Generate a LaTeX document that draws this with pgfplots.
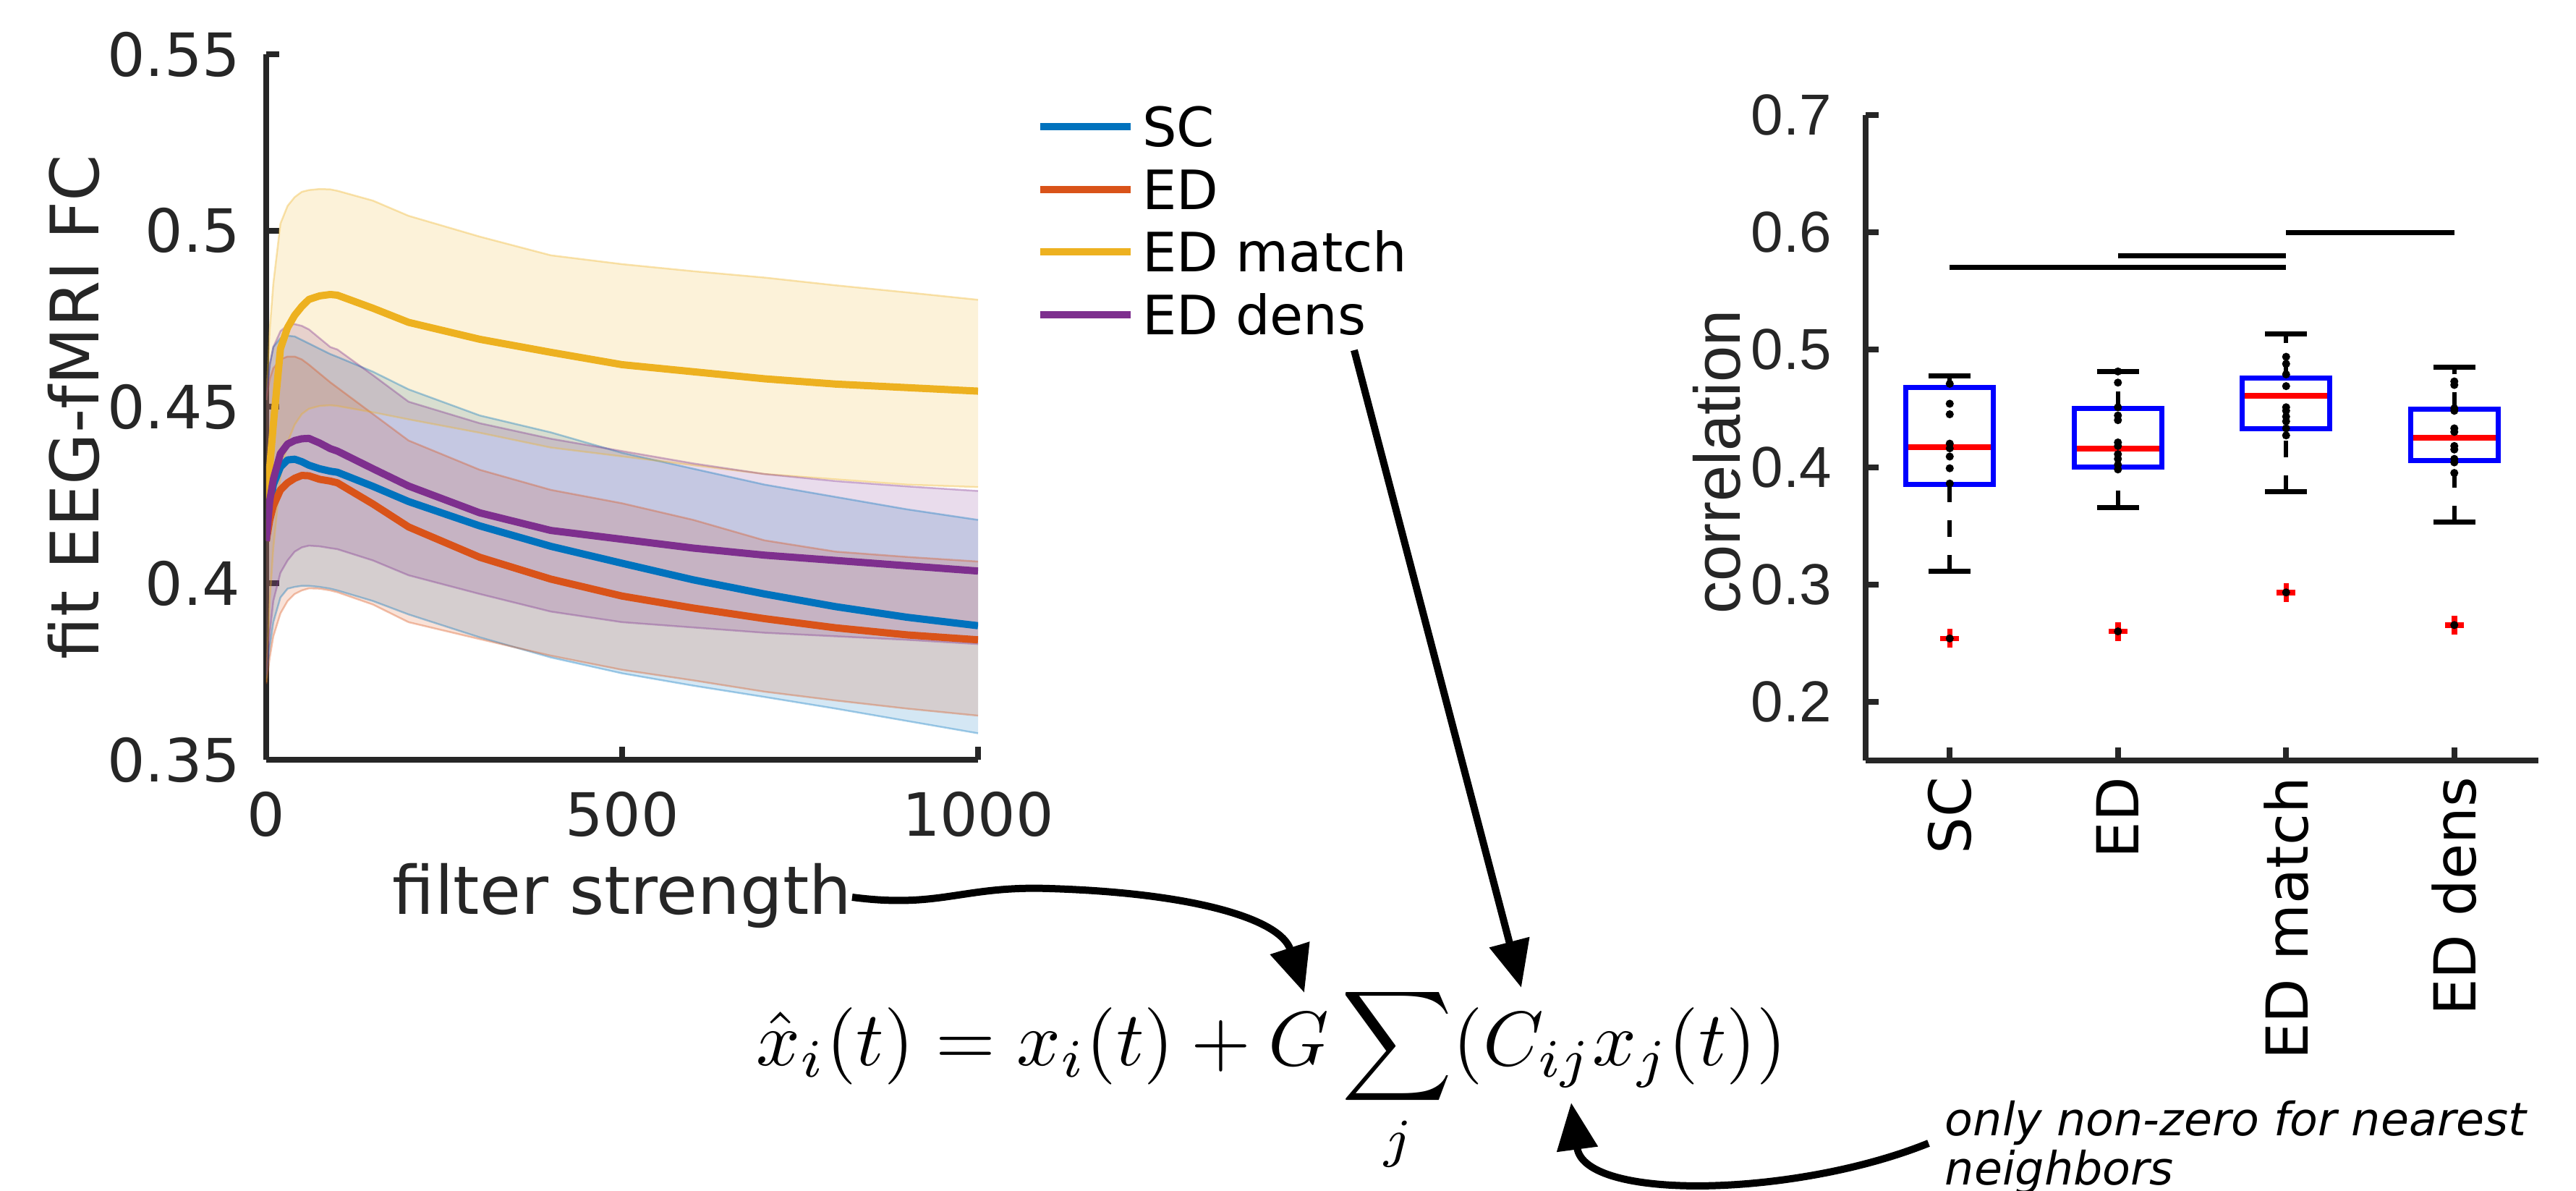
\documentclass[border=0pt]{standalone}
\usepackage{graphicx}
\usepackage[no-math]{fontspec}
\setmainfont{DejaVu Sans}
\newfontfamily\libsans{Liberation Sans}
\usepackage{pgfplots}
\pgfplotsset{compat=1.18}
\usepackage{pgfplotstable}
\usetikzlibrary{arrows.meta}

\definecolor{SCc}{rgb}{0,0.447,0.741}
\definecolor{EDc}{rgb}{0.85,0.325,0.098}
\definecolor{EMc}{rgb}{0.929,0.694,0.125}
\definecolor{EDDc}{rgb}{0.494,0.184,0.556}
\definecolor{axgray}{rgb}{0.15,0.15,0.15}

\pgfplotstableread{
x m lo hi
0 0.412 0.373 0.452
5 0.421 0.382 0.462
10 0.428 0.389 0.467
20 0.433 0.396 0.4695
30 0.435 0.3985 0.4702
40 0.4352 0.399 0.470
50 0.4345 0.3993 0.469
60 0.4335 0.3993 0.468
75 0.4325 0.399 0.4665
90 0.4318 0.3985 0.465
100 0.4315 0.398 0.4642
150 0.4275 0.395 0.460
200 0.4232 0.3912 0.455
300 0.4163 0.3847 0.4476
400 0.4105 0.379 0.4428
500 0.4057 0.3745 0.437
600 0.401 0.371 0.4325
700 0.397 0.3678 0.428
800 0.3934 0.3645 0.4245
900 0.3904 0.361 0.421
1000 0.388 0.3575 0.418
}\SCdata

\pgfplotstableread{
x m lo hi
0 0.412 0.3715 0.452
5 0.418 0.379 0.458
10 0.422 0.385 0.461
20 0.4265 0.3915 0.4635
30 0.4285 0.395 0.4643
40 0.4298 0.397 0.4643
50 0.4306 0.398 0.4635
60 0.4305 0.3986 0.462
75 0.4295 0.3985 0.4595
90 0.429 0.398 0.457
100 0.4285 0.3975 0.4555
150 0.4225 0.394 0.448
200 0.416 0.389 0.4405
300 0.4074 0.3842 0.4322
400 0.4012 0.3795 0.4265
500 0.3964 0.3755 0.4227
600 0.393 0.3725 0.418
700 0.390 0.3693 0.4122
800 0.3874 0.3668 0.409
900 0.3854 0.3645 0.4075
1000 0.384 0.3625 0.4062
}\EDdata

\pgfplotstableread{
x m lo hi
0 0.412 0.372 0.452
5 0.433 0.395 0.472
10 0.445 0.41 0.485
20 0.4665 0.43 0.502
30 0.4725 0.44 0.507
40 0.476 0.445 0.5095
50 0.4785 0.448 0.511
60 0.4805 0.4495 0.5115
75 0.4815 0.4503 0.5118
90 0.4819 0.4505 0.5117
100 0.4817 0.4503 0.5113
150 0.478 0.4485 0.5085
200 0.474 0.4465 0.5042
300 0.4692 0.4427 0.4983
400 0.4655 0.4385 0.493
500 0.462 0.436 0.4905
600 0.460 0.4335 0.4885
700 0.458 0.431 0.4867
800 0.4565 0.4295 0.4845
900 0.4555 0.428 0.4825
1000 0.4545 0.4273 0.4804
}\EMdata

\pgfplotstableread{
x m lo hi
0 0.412 0.374 0.452
5 0.4235 0.386 0.462
10 0.4295 0.395 0.467
20 0.4368 0.403 0.4715
30 0.4395 0.4065 0.4732
40 0.4405 0.409 0.4735
50 0.441 0.4102 0.473
60 0.4411 0.4107 0.472
75 0.4398 0.4105 0.4695
90 0.4382 0.410 0.467
100 0.4375 0.4097 0.4663
150 0.4325 0.4065 0.459
200 0.4276 0.4023 0.4515
300 0.420 0.397 0.4454
400 0.415 0.392 0.441
500 0.4125 0.389 0.4375
600 0.410 0.3875 0.434
700 0.408 0.386 0.431
800 0.4065 0.385 0.429
900 0.405 0.384 0.4275
1000 0.4035 0.3828 0.4262
}\EDDdata

\pgfplotstableread{
x y
1 0.471
1 0.454
1 0.445
1 0.420
1 0.416
1 0.409
1 0.399
1 0.386
1 0.254
2 0.4815
2 0.472
2 0.451
2 0.444
2 0.440
2 0.421
2 0.418
2 0.411
2 0.407
2 0.402
2 0.398
2 0.260
3 0.494
3 0.488
3 0.479
3 0.469
3 0.451
3 0.448
3 0.443
3 0.439
3 0.433
3 0.427
3 0.2932
4 0.473
4 0.470
4 0.450
4 0.448
4 0.433
4 0.430
4 0.418
4 0.415
4 0.407
4 0.404
4 0.395
4 0.2654
}\dotdata

\begin{document}
\begin{tikzpicture}
\useasboundingbox (0,0) rectangle (712.2pt,329.2pt);

% ---------------- left axis ----------------
\begin{axis}[
  at={(73.6pt,119.2pt)}, anchor=south west, scale only axis,
  width=196.8pt, height=195pt,
  xmin=0, xmax=1000, ymin=0.35, ymax=0.55,
  axis lines=left,
  axis line style={-, line width=1.6pt, color=axgray},
  tick align=inside, major tick length=3.6pt,
  tick style={line width=1.6pt, color=axgray},
  xtick={0,500,1000}, ytick={0.35,0.4,0.45,0.5,0.55},
  /pgf/number format/assume math mode=true,
  /pgf/number format/1000 sep={},
  ticklabel style={font=\fontsize{16.5}{16.5}\selectfont, text=axgray},
  yticklabel style={anchor=east, inner sep=0pt, xshift=-7pt},
  xticklabel style={anchor=north, inner sep=0pt, yshift=-8.6pt},
  xlabel={filter strength}, ylabel={fit EEG-fMRI FC},
  label style={font=\fontsize{18.5}{18.5}\selectfont, text=axgray},
  xlabel style={at={(axis description cs:0.5,-0.1928)}, anchor=center},
  ylabel style={at={(axis description cs:-0.2703,0.5)}, anchor=center},
  legend style={at={(1.0815,0.764)}, anchor=west, draw=none, fill=none,
    inner sep=0pt, row sep=6.3pt, column sep=2.2pt,
    font=\fontsize{15}{15}\selectfont,
    nodes={inner sep=0pt, text height=11pt, text depth=0pt}},
  legend cell align=left,
  legend image code/.code={\draw[#1, line width=2pt] (0pt,0pt) -- (25pt,0pt);},
  band/.style={draw=none, fill opacity=0.17, forget plot},
  edge/.style={draw opacity=0.35, line width=0.5pt, forget plot},
]
% bands
\addplot[band, fill=SCc] coordinates {(0,0.452)(5,0.462)(10,0.467)(20,0.4695)(30,0.4702)(40,0.470)(50,0.469)(60,0.468)(75,0.4665)(90,0.465)(100,0.4642)(150,0.460)(200,0.455)(300,0.4476)(400,0.4428)(500,0.437)(600,0.4325)(700,0.428)(800,0.4245)(900,0.421)(1000,0.418)(1000,0.3575)(900,0.361)(800,0.3645)(700,0.3678)(600,0.371)(500,0.3745)(400,0.379)(300,0.3847)(200,0.3912)(150,0.395)(100,0.398)(90,0.3985)(75,0.399)(60,0.3993)(50,0.3993)(40,0.399)(30,0.3985)(20,0.396)(10,0.389)(5,0.382)(0,0.373)};
\addplot[band, fill=EDc] coordinates {(0,0.452)(5,0.458)(10,0.461)(20,0.4635)(30,0.4643)(40,0.4643)(50,0.4635)(60,0.462)(75,0.4595)(90,0.457)(100,0.4555)(150,0.448)(200,0.4405)(300,0.4322)(400,0.4265)(500,0.4227)(600,0.418)(700,0.4122)(800,0.409)(900,0.4075)(1000,0.4062)(1000,0.3625)(900,0.3645)(800,0.3668)(700,0.3693)(600,0.3725)(500,0.3755)(400,0.3795)(300,0.3842)(200,0.389)(150,0.394)(100,0.3975)(90,0.398)(75,0.3985)(60,0.3986)(50,0.398)(40,0.397)(30,0.395)(20,0.3915)(10,0.385)(5,0.379)(0,0.3715)};
\addplot[band, fill=EMc] coordinates {(0,0.452)(5,0.472)(10,0.485)(20,0.502)(30,0.507)(40,0.5095)(50,0.511)(60,0.5115)(75,0.5118)(90,0.5117)(100,0.5113)(150,0.5085)(200,0.5042)(300,0.4983)(400,0.493)(500,0.4905)(600,0.4885)(700,0.4867)(800,0.4845)(900,0.4825)(1000,0.4804)(1000,0.4273)(900,0.428)(800,0.4295)(700,0.431)(600,0.4335)(500,0.436)(400,0.4385)(300,0.4427)(200,0.4465)(150,0.4485)(100,0.4503)(90,0.4505)(75,0.4503)(60,0.4495)(50,0.448)(40,0.445)(30,0.44)(20,0.43)(10,0.41)(5,0.395)(0,0.372)};
\addplot[band, fill=EDDc] coordinates {(0,0.452)(5,0.462)(10,0.467)(20,0.4715)(30,0.4732)(40,0.4735)(50,0.473)(60,0.472)(75,0.4695)(90,0.467)(100,0.4663)(150,0.459)(200,0.4515)(300,0.4454)(400,0.441)(500,0.4375)(600,0.434)(700,0.431)(800,0.429)(900,0.4275)(1000,0.4262)(1000,0.3828)(900,0.384)(800,0.385)(700,0.386)(600,0.3875)(500,0.389)(400,0.392)(300,0.397)(200,0.4023)(150,0.4065)(100,0.4097)(90,0.410)(75,0.4105)(60,0.4107)(50,0.4102)(40,0.409)(30,0.4065)(20,0.403)(10,0.395)(5,0.386)(0,0.374)};
% band edges
\addplot[edge, SCc] table[x=x,y=hi]{\SCdata};
\addplot[edge, SCc] table[x=x,y=lo]{\SCdata};
\addplot[edge, EDc] table[x=x,y=hi]{\EDdata};
\addplot[edge, EDc] table[x=x,y=lo]{\EDdata};
\addplot[edge, EMc] table[x=x,y=hi]{\EMdata};
\addplot[edge, EMc] table[x=x,y=lo]{\EMdata};
\addplot[edge, EDDc] table[x=x,y=hi]{\EDDdata};
\addplot[edge, EDDc] table[x=x,y=lo]{\EDDdata};
% means
\addplot[SCc, line width=2pt, line join=round] table[x=x,y=m]{\SCdata};
\addlegendentry{SC}
\addplot[EDc, line width=2pt, line join=round] table[x=x,y=m]{\EDdata};
\addlegendentry{ED}
\addplot[EMc, line width=2pt, line join=round] table[x=x,y=m]{\EMdata};
\addlegendentry{ED match}
\addplot[EDDc, line width=2pt, line join=round] table[x=x,y=m]{\EDDdata};
\addlegendentry{ED dens}
\end{axis}

% ---------------- right axis ----------------
\begin{axis}[
  at={(515.8pt,119pt)}, anchor=south west, scale only axis,
  width=186pt, height=178.4pt,
  xmin=0.5, xmax=4.5, ymin=0.15, ymax=0.7,
  axis lines=left,
  axis line style={-, line width=1.6pt, color=axgray},
  tick align=inside, major tick length=3.6pt,
  tick style={line width=1.6pt, color=axgray},
  xtick={1,2,3,4}, xticklabels={SC,ED,ED match,ED dens},
  ytick={0.2,0.3,0.4,0.5,0.6,0.7},
  /pgf/number format/assume math mode=true,
  yticklabel style={font=\libsans\fontsize{16}{16}\selectfont, text=axgray, anchor=east, inner sep=0pt, xshift=-9.2pt},
  xticklabel style={font=\fontsize{16}{16}\selectfont, text=black, rotate=90, anchor=east, inner sep=4.4pt},
  ylabel={correlation},
  ylabel style={font=\libsans\fontsize{18}{18}\selectfont, text=axgray, at={(axis description cs:-0.2215,0.4625)}, anchor=center},
  clip=false,
  wh/.style={black, line width=1.2pt, dash pattern=on 4.6pt off 5pt},
  cap/.style={black, line width=1.4pt},
  bx/.style={blue, line width=1.4pt, line join=miter},
  md/.style={red, line width=1.6pt},
]
% significance lines
\addplot[black, line width=1.4pt] coordinates {(1,0.57) (3,0.57)};
\addplot[black, line width=1.4pt] coordinates {(2,0.58) (3,0.58)};
\addplot[black, line width=1.4pt] coordinates {(3,0.60) (4,0.60)};
% whiskers (dashed)
\addplot[wh] coordinates {(1,0.311) (1,0.385)};
\addplot[wh] coordinates {(1,0.468) (1,0.478)};
\addplot[wh] coordinates {(2,0.3655) (2,0.400)};
\addplot[wh] coordinates {(2,0.450) (2,0.4815)};
\addplot[wh] coordinates {(3,0.379) (3,0.433)};
\addplot[wh] coordinates {(3,0.476) (3,0.5136)};
\addplot[wh] coordinates {(4,0.353) (4,0.4056)};
\addplot[wh] coordinates {(4,0.4494) (4,0.4852)};
% caps
\addplot[cap] coordinates {(0.875,0.478) (1.125,0.478)};
\addplot[cap] coordinates {(0.875,0.311) (1.125,0.311)};
\addplot[cap] coordinates {(1.875,0.4815) (2.125,0.4815)};
\addplot[cap] coordinates {(1.875,0.3655) (2.125,0.3655)};
\addplot[cap] coordinates {(2.875,0.5136) (3.125,0.5136)};
\addplot[cap] coordinates {(2.875,0.379) (3.125,0.379)};
\addplot[cap] coordinates {(3.875,0.4852) (4.125,0.4852)};
\addplot[cap] coordinates {(3.875,0.353) (4.125,0.353)};
% boxes
\addplot[bx] coordinates {(0.74,0.468) (0.74,0.385) (1.26,0.385) (1.26,0.468) (0.74,0.468) (0.74,0.385)};
\addplot[bx] coordinates {(1.74,0.450) (1.74,0.400) (2.26,0.400) (2.26,0.450) (1.74,0.450) (1.74,0.400)};
\addplot[bx] coordinates {(2.74,0.476) (2.74,0.433) (3.26,0.433) (3.26,0.476) (2.74,0.476) (2.74,0.433)};
\addplot[bx] coordinates {(3.74,0.4494) (3.74,0.4056) (4.26,0.4056) (4.26,0.4494) (3.74,0.4494) (3.74,0.4056)};
% medians
\addplot[md] coordinates {(0.755,0.417) (1.245,0.417)};
\addplot[md] coordinates {(1.755,0.4155) (2.245,0.4155)};
\addplot[md] coordinates {(2.755,0.4605) (3.245,0.4605)};
\addplot[md] coordinates {(3.755,0.4253) (4.245,0.4253)};
% outliers
\addplot[only marks, mark=+, red, mark size=2.6pt, mark options={line width=1.5pt}] coordinates {(1,0.254) (2,0.260) (3,0.2932) (4,0.2654)};
% data points
\addplot[only marks, mark=*, black, mark size=0.9pt] table[x=x,y=y]{\dotdata};
\end{axis}

% ---------------- annotations ----------------
\begin{scope}[x=0.2pt, y=-0.2pt, shift={(0pt,329.2pt)}]
\draw[line width=2pt, -{Triangle[length=13pt,width=11pt]}] (1178,1240) .. controls (1300,1256) and (1330,1224) .. (1450,1228) .. controls (1650,1234) and (1770,1270) .. (1803,1372);
\draw[line width=2pt, -{Triangle[length=13pt,width=11pt]}] (1872,484) -- (2103,1365);
\draw[line width=2pt, -{Triangle[length=13pt,width=11pt]}] (2666,1580) .. controls (2480,1655) and (2190,1660) .. (2172,1524);
\node[anchor=base west, inner sep=0pt] at (1045,1473)
  {\scalebox{2.13}{$\displaystyle \hat{x}_i(t) = x_i(t) + G\sum_j (C_{ij}x_j(t))$}};
\node[anchor=base west, inner sep=0pt, font=\itshape\fontsize{12.7}{13}\selectfont] at (2688,1570) {only non-zero for nearest};
\node[anchor=base west, inner sep=0pt, font=\itshape\fontsize{12.7}{13}\selectfont] at (2688,1638) {neighbors};
\end{scope}
\end{tikzpicture}
\end{document}
